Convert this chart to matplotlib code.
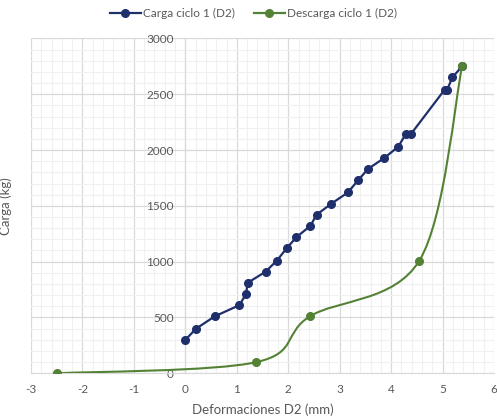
import matplotlib
matplotlib.use("Agg")
import matplotlib.pyplot as plt
import numpy as np
from matplotlib.path import Path
from matplotlib.patches import PathPatch
from matplotlib.lines import Line2D
from matplotlib.ticker import MultipleLocator

plt.rcParams['font.family'] = ['Lato', 'DejaVu Sans']
plt.rcParams['axes.unicode_minus'] = False

# Carga ciclo 1 (D2)
carga_x = [0.0, 0.21, 0.57, 1.05, 1.18, 1.21, 1.56, 1.78, 1.97, 2.16, 2.43, 2.55,
           2.84, 3.16, 3.36, 3.55, 3.87, 4.14, 4.28, 4.38, 5.04, 5.09, 5.19, 5.38]
carga_y = [300, 400, 510, 610, 710, 810, 910, 1010, 1120, 1220, 1320, 1420,
           1520, 1620, 1730, 1830, 1930, 2030, 2140, 2140, 2540, 2540, 2650, 2750]

# Descarga ciclo 1 (D2)
desc_x = [5.38, 4.55, 2.42, 1.38, -2.5]
desc_y = [2750, 1010, 510, 100, 0]

blue = '#1F2F6B'
green = '#548235'
grey_txt = '#595959'

fig = plt.figure(figsize=(4.97, 4.17), dpi=100)
ax = fig.add_axes([0.0624, 0.1048, 0.9316, 0.8032])

ax.set_xlim(-3, 6)
ax.set_ylim(0, 3000)
ax.xaxis.set_major_locator(MultipleLocator(1))
ax.xaxis.set_minor_locator(MultipleLocator(0.2))
ax.yaxis.set_major_locator(MultipleLocator(500))
ax.yaxis.set_minor_locator(MultipleLocator(100))
ax.grid(which='minor', color='#f0f0f0', linewidth=0.8)
ax.grid(which='major', color='#d9d9d9', linewidth=0.9)
ax.set_axisbelow(True)

for s in ['top', 'right']:
    ax.spines[s].set_visible(False)
ax.spines['left'].set_position(('data', 0))
ax.spines['left'].set_color('#d9d9d9')
ax.spines['bottom'].set_color('#d9d9d9')

ax.tick_params(which='both', length=0)
ax.tick_params(axis='x', labelsize=8.5, labelcolor=grey_txt, pad=8)
ax.tick_params(axis='y', labelsize=8.5, labelcolor=grey_txt, pad=8.5)

# carga: straight segments
ax.plot(carga_x, carga_y, '-o', color=blue, lw=1.6, ms=5.5, zorder=3)

# descarga: smoothed line (Catmull-Rom style bezier through the points)
pts = np.column_stack([desc_x, desc_y]).astype(float)
verts = [pts[0]]
codes = [Path.MOVETO]
n = len(pts)
for i in range(n - 1):
    p0 = pts[max(i - 1, 0)]
    p1 = pts[i]
    p2 = pts[i + 1]
    p3 = pts[min(i + 2, n - 1)]
    verts += [p1 + (p2 - p0) / 6, p2 - (p3 - p1) / 6, p2]
    codes += [Path.CURVE4] * 3
ax.add_patch(PathPatch(Path(verts, codes), facecolor='none', edgecolor=green,
                       lw=1.5, zorder=3))
ax.plot(desc_x, desc_y, 'o', color=green, ms=5.5, zorder=4)

ax.set_xlabel('Deformaciones D2 (mm)', fontsize=9.5, color=grey_txt, labelpad=6)
ax.set_ylabel('Carga (kg)', fontsize=9.5, color=grey_txt)
ax.yaxis.set_label_coords(-0.041, 0.5)

handles = [Line2D([], [], color=blue, marker='o', lw=1.6, ms=5.5),
           Line2D([], [], color=green, marker='o', lw=1.6, ms=5.5)]
fig.legend(handles, ['Carga ciclo 1 (D2)', 'Descarga ciclo 1 (D2)'],
           loc='center', bbox_to_anchor=(0.51, 0.968), ncol=2, frameon=False,
           fontsize=8.5, handlelength=2.6, handletextpad=0.2, columnspacing=1.6,
           labelcolor=grey_txt)

fig.savefig('out.png', dpi=100)
